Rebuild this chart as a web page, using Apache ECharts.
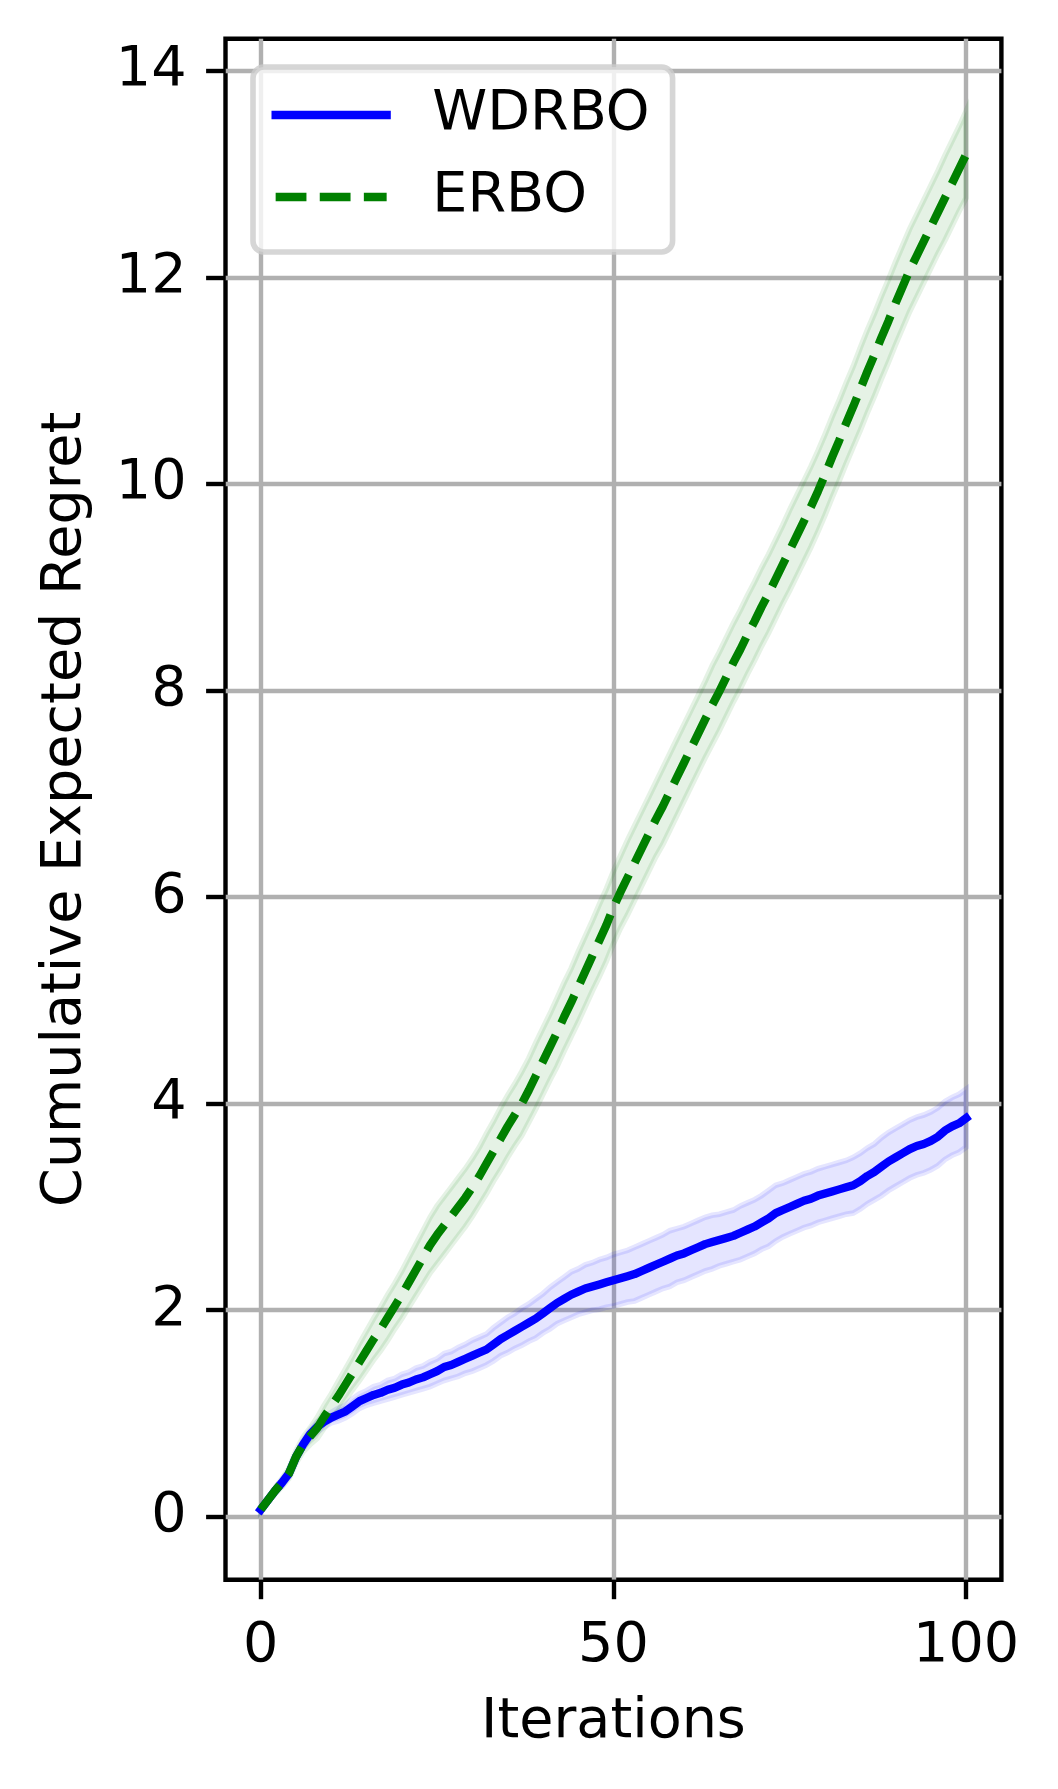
<!DOCTYPE html>
<html>
<head>
<meta charset="utf-8">
<script src="https://cdn.jsdelivr.net/npm/echarts@6/dist/echarts.min.js"></script>
<style>
  html, body { margin: 0; padding: 0; background: #fff; }
  #regret-chart { width: 1058px; height: 1789px; }
</style>
</head>
<body>
<div id="regret-chart"></div>
<script>
// iterations 0..100
const iterations = Array.from({ length: 101 }, (_, i) => i);

// mean cumulative regret
const wdrboMean = [
  0.07, 0.16, 0.25, 0.33, 0.42, 0.58, 0.70, 0.80, 0.87, 0.92,
  0.96, 0.99, 1.02, 1.07, 1.12, 1.15, 1.18, 1.20, 1.23, 1.25,
  1.28, 1.30, 1.33, 1.35, 1.38, 1.41, 1.45, 1.47, 1.50, 1.53,
  1.56, 1.59, 1.62, 1.67, 1.72, 1.76, 1.80, 1.84, 1.88, 1.92,
  1.97, 2.02, 2.07, 2.11, 2.15, 2.18, 2.21, 2.23, 2.25, 2.27,
  2.29, 2.31, 2.33, 2.35, 2.38, 2.41, 2.44, 2.47, 2.50, 2.53,
  2.55, 2.58, 2.61, 2.64, 2.66, 2.68, 2.70, 2.72, 2.75, 2.78,
  2.81, 2.85, 2.89, 2.94, 2.97, 3.00, 3.03, 3.06, 3.08, 3.11,
  3.13, 3.15, 3.17, 3.19, 3.21, 3.25, 3.30, 3.34, 3.39, 3.44,
  3.48, 3.52, 3.56, 3.59, 3.61, 3.64, 3.68, 3.74, 3.78, 3.81,
  3.86
];
const wdrboStd = [
  0.01, 0.02, 0.02, 0.03, 0.03, 0.03, 0.04, 0.04, 0.05, 0.05,
  0.05, 0.06, 0.06, 0.07, 0.07, 0.07, 0.08, 0.08, 0.09, 0.09,
  0.10, 0.10, 0.11, 0.11, 0.12, 0.12, 0.13, 0.13, 0.14, 0.14,
  0.15, 0.15, 0.15, 0.16, 0.16, 0.17, 0.17, 0.18, 0.18, 0.19,
  0.19, 0.20, 0.20, 0.21, 0.22, 0.22, 0.23, 0.23, 0.24, 0.24,
  0.25, 0.25, 0.25, 0.26, 0.26, 0.26, 0.26, 0.26, 0.27, 0.26,
  0.26, 0.26, 0.26, 0.26, 0.26, 0.25, 0.25, 0.25, 0.26, 0.26,
  0.26, 0.26, 0.27, 0.27, 0.26, 0.26, 0.26, 0.26, 0.26, 0.26,
  0.26, 0.26, 0.26, 0.26, 0.27, 0.27, 0.27, 0.27, 0.28, 0.28,
  0.28, 0.28, 0.28, 0.28, 0.28, 0.28, 0.28, 0.28, 0.28, 0.28,
  0.28
];
const erboMean = [
  0.07, 0.16, 0.25, 0.33, 0.42, 0.58, 0.70, 0.78, 0.86, 0.97,
  1.07, 1.17, 1.28, 1.39, 1.50, 1.61, 1.72, 1.82, 1.93, 2.04,
  2.15, 2.27, 2.39, 2.51, 2.63, 2.73, 2.82, 2.91, 3.00, 3.09,
  3.19, 3.30, 3.42, 3.54, 3.66, 3.78, 3.89, 4.00, 4.13, 4.27,
  4.41, 4.55, 4.69, 4.84, 4.98, 5.13, 5.28, 5.43, 5.58, 5.73,
  5.90, 6.05, 6.19, 6.33, 6.47, 6.61, 6.75, 6.88, 7.02, 7.16,
  7.30, 7.44, 7.58, 7.72, 7.86, 7.99, 8.13, 8.27, 8.40, 8.54,
  8.67, 8.81, 8.94, 9.08, 9.22, 9.36, 9.50, 9.64, 9.78, 9.93,
  10.09, 10.26, 10.42, 10.59, 10.75, 10.92, 11.09, 11.25, 11.42, 11.58,
  11.75, 11.91, 12.07, 12.21, 12.35, 12.49, 12.63, 12.77, 12.91, 13.05,
  13.19
];
const erboStd = [
  0.01, 0.02, 0.03, 0.04, 0.05, 0.06, 0.07, 0.08, 0.10, 0.11,
  0.12, 0.14, 0.15, 0.16, 0.18, 0.19, 0.20, 0.21, 0.22, 0.22,
  0.23, 0.24, 0.25, 0.26, 0.27, 0.28, 0.28, 0.28, 0.28, 0.28,
  0.28, 0.28, 0.29, 0.29, 0.30, 0.30, 0.30, 0.31, 0.31, 0.32,
  0.32, 0.32, 0.33, 0.33, 0.33, 0.34, 0.34, 0.34, 0.35, 0.35,
  0.35, 0.35, 0.36, 0.36, 0.36, 0.36, 0.36, 0.37, 0.37, 0.37,
  0.37, 0.37, 0.37, 0.37, 0.38, 0.38, 0.38, 0.38, 0.38, 0.38,
  0.38, 0.38, 0.38, 0.38, 0.38, 0.39, 0.39, 0.39, 0.39, 0.39,
  0.39, 0.39, 0.39, 0.39, 0.39, 0.40, 0.40, 0.40, 0.40, 0.40,
  0.40, 0.40, 0.40, 0.40, 0.40, 0.40, 0.40, 0.41, 0.41, 0.41,
  0.42
];

const xTicks = [0, 50, 100];
const yTicks = [0, 2, 4, 6, 8, 10, 12, 14];

const FONT = "'DejaVu Sans', sans-serif";
const FS = 55.6;
const LW = 8.3;        // 1.5pt at 400dpi
const THIN = 4.4;      // 0.8pt
const DASH = [30.8, 13.3];

const pairs = (ys) => iterations.map((x, i) => [x, ys[i]]);

// fill_between style band: one polygon, upper edge forward, lower edge back
function band(name, fill, m, s) {
  return {
    name: name, type: 'custom', silent: true, z: 1,
    data: iterations.map((x, i) => [x, m[i] - s[i], m[i] + s[i]]),
    encode: { x: 0, y: [1, 2] },
    renderItem: function (params, api) {
      if (params.dataIndex !== 0) return;
      const up = iterations.map((x, i) => api.coord([x, m[i] + s[i]]));
      const lo = iterations.map((x, i) => api.coord([x, m[i] - s[i]])).reverse();
      return {
        type: 'polygon',
        shape: { points: up.concat(lo) },
        style: { fill: fill, stroke: fill, lineWidth: 5.6 }
      };
    }
  };
}

const chart = echarts.init(document.getElementById('regret-chart'));

const option = {
  animation: false,
  backgroundColor: '#ffffff',
  textStyle: { fontFamily: FONT },
  grid: {
    left: 225.5, top: 38.8, width: 775.9, height: 1541,
    show: true, borderColor: '#000', borderWidth: THIN, backgroundColor: 'transparent'
  },
  legend: {
    left: 253, top: 67,
    orient: 'vertical',
    selectedMode: false,
    itemWidth: 111, itemHeight: 20, itemGap: 26,
    padding: [20, 23, 27, 18.5],
    backgroundColor: 'rgba(255,255,255,0.8)',
    borderColor: 'rgba(204,204,204,0.8)',
    borderWidth: 5.6, borderRadius: 11,
    textStyle: { fontFamily: FONT, fontSize: FS, color: '#000', lineHeight: 56, padding: [0, 0, 0, 40.6] },
    data: [
      { name: 'WDRBO', itemStyle: { opacity: 0 }, lineStyle: { color: '#0000ff', width: LW, type: 'solid', cap: 'square' } },
      { name: 'ERBO', itemStyle: { opacity: 0 }, lineStyle: { color: '#008000', width: LW, type: DASH, cap: 'butt' } }
    ]
  },
  xAxis: {
    type: 'value', min: -5, max: 105,
    name: 'Iterations', nameLocation: 'middle', nameGap: 115,
    nameTextStyle: { fontFamily: FONT, fontSize: FS, color: '#000' },
    axisLine: { show: false, onZero: false },
    axisTick: { show: true, length: 19.4, lineStyle: { color: '#000', width: THIN }, customValues: xTicks },
    axisLabel: { fontFamily: FONT, fontSize: FS, color: '#000', margin: 39, customValues: xTicks },
    splitLine: { show: true, lineStyle: { color: '#b0b0b0', width: THIN } }
  },
  yAxis: {
    type: 'value', min: -0.61, max: 14.31,
    name: 'Cumulative Expected Regret', nameLocation: 'middle', nameGap: 132,
    nameTextStyle: { fontFamily: FONT, fontSize: FS, color: '#000' },
    axisLine: { show: false, onZero: false },
    axisTick: { show: true, length: 19.4, lineStyle: { color: '#000', width: THIN }, customValues: yTicks },
    axisLabel: { fontFamily: FONT, fontSize: FS, color: '#000', margin: 39, customValues: yTicks },
    splitLine: { show: true, lineStyle: { color: '#b0b0b0', width: THIN } }
  },
  series: [
    band('WDRBO band', 'rgba(0,0,255,0.1)', wdrboMean, wdrboStd),
    band('ERBO band', 'rgba(0,128,0,0.1)', erboMean, erboStd),
    {
      name: 'WDRBO', type: 'line', symbol: 'none', silent: true, z: 3,
      lineStyle: { color: '#0000ff', width: LW, cap: 'square' },
      itemStyle: { color: '#0000ff' },
      data: pairs(wdrboMean)
    },
    {
      name: 'ERBO', type: 'line', symbol: 'none', silent: true, z: 3,
      lineStyle: { color: '#008000', width: LW, type: DASH, cap: 'butt' },
      itemStyle: { color: '#008000' },
      data: pairs(erboMean)
    }
  ]
};

chart.setOption(option);
</script>
</body>
</html>
